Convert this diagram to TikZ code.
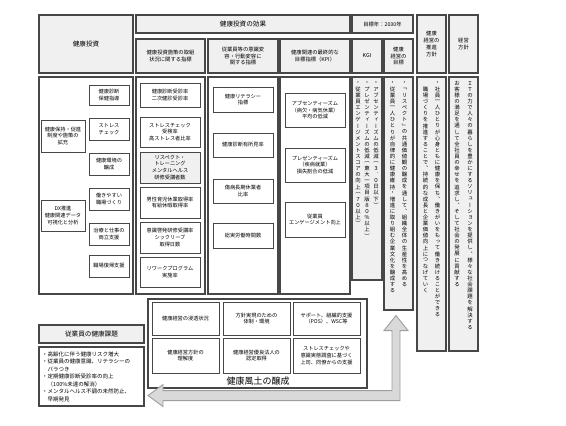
\documentclass[tikz,border=0pt]{standalone}
\usepackage{fontspec}
\setmainfont{Noto Sans CJK JP}
\newfontfamily\tatefont[RawFeature=+vert]{Noto Sans CJK JP}
\usepackage{graphicx}
\usetikzlibrary{calc}

\newlength\tatew
\newlength\tateh
\setlength\tatew{9pt}
\setlength\tateh{6.1pt}
\makeatletter
\def\tate@end{}
\newcommand\tatecol[1]{\vtop{\offinterlineskip\tate@loop#1\tate@end}}
\def\tate@loop#1{\ifx\tate@end#1\else\hbox to\tatew{\hss\vbox to\tateh{\vss\hbox{#1}\vss}\hss}\expandafter\tate@loop\fi}
\makeatother

\begin{document}
\begin{tikzpicture}[x=1pt, y=-1pt,
	HeadBox/.style={rectangle, draw=black!72, fill=black!6, line width=1.1pt, inner sep=1pt, align=center, font=\fontsize{5.3}{6.8}\selectfont},
	BigHead/.style={HeadBox, font=\fontsize{6.6}{8}\selectfont},
	BodyBox/.style={rectangle, draw=black!72, fill=white, line width=1.1pt},
	ItemBox/.style={rectangle, draw=black!72, fill=white, line width=0.9pt, inner sep=0.5pt, align=center, font=\fontsize{5.2}{6.8}\selectfont},
	TateText/.style={inner sep=0pt, anchor=north, font=\tatefont\fontsize{5.4}{6}\selectfont},
	BigArrow/.style={draw=black!38, fill=black!15, line width=0.9pt, line join=miter}]

	\useasboundingbox (0,0) rectangle (566,426);

	% top headers
	\node[BigHead, minimum width=94, minimum height=58] (InvHead) at (86,44) {健康投資};
	\node[BigHead, minimum width=214, minimum height=18] (EffHead) at (243,24) {健康投資の効果};
	\node[HeadBox, minimum width=61, minimum height=18] (YearHead) at (382.5,24) {目標年：2030年};
	\node[HeadBox, minimum width=29, minimum height=58] (PromHead) at (431.5,44) {健康\\経営の\\推進\\方針};
	\node[HeadBox, minimum width=29, minimum height=58] (PolHead) at (463.5,44) {経営\\方針};
	\node[HeadBox, minimum width=69, minimum height=34] (SubOneHead) at (170.5,56) {健康投資施策の取組\\状況に関する指標};
	\node[HeadBox, minimum width=70, minimum height=34] (SubTwoHead) at (243,56) {従業員等の意識変\\容・行動変容に\\関する指標};
	\node[HeadBox, minimum width=70, minimum height=34] (KpiHead) at (315,56) {健康関連の最終的な\\目標指標（KPI）};
	\node[HeadBox, minimum width=30, minimum height=34] (KgiHead) at (367,56) {KGI};
	\node[HeadBox, minimum width=29, minimum height=34] (GoalHead) at (398.5,56) {健康\\経営の\\目標};

	% column bodies
	\node[BodyBox, minimum width=94, minimum height=217] (InvBody) at (86,185.5) {};
	\node[BodyBox, minimum width=69, minimum height=217] (SubOneBody) at (170.5,185.5) {};
	\node[BodyBox, minimum width=70, minimum height=217] (SubTwoBody) at (243,185.5) {};
	\node[BodyBox, minimum width=70, minimum height=217] (KpiBody) at (315,185.5) {};
	\node[BodyBox, fill=black!6, minimum width=30, minimum height=203] (KgiBody) at (367,178.5) {};
	\node[BodyBox, fill=black!6, minimum width=29, minimum height=233] (GoalBody) at (398.5,193.5) {};
	\node[BodyBox, fill=black!6, minimum width=29, minimum height=274] (PromBody) at (431.5,214) {};
	\node[BodyBox, fill=black!6, minimum width=29, minimum height=274] (PolBody) at (463.5,214) {};

	% investment items
	\node[ItemBox, minimum width=40, minimum height=20] (InvCheckup) at (109,95) {健康診断\\保健指導};
	\node[ItemBox, minimum width=40, minimum height=22] (InvStress) at (109,129) {ストレス\\チェック};
	\node[ItemBox, minimum width=44, minimum height=32] (InvSystem) at (63,136) {健康保持・促進\\制度や施策の\\拡充};
	\node[ItemBox, minimum width=40, minimum height=22] (InvEnv) at (109,164) {健康環境の\\醸成};
	\node[ItemBox, minimum width=40, minimum height=22] (InvWork) at (109,199) {働きやすい\\職場づくり};
	\node[ItemBox, minimum width=44, minimum height=31] (InvDx) at (63,215.5) {DX推進\\健康関連データ\\可視化と分析};
	\node[ItemBox, minimum width=40, minimum height=22] (InvCure) at (109,234) {治療と仕事の\\両立支援};
	\node[ItemBox, minimum width=40, minimum height=22] (InvReturn) at (109,266) {職場復帰支援};

	% measure items
	\node[ItemBox, minimum width=60, minimum height=24] (MsCheckup) at (170,95) {健康診断受診率\\二次健診受診率};
	\node[ItemBox, minimum width=60, minimum height=30] (MsStress) at (170,132) {ストレスチェック\\受検率\\高ストレス者比率};
	\node[ItemBox, fill=black!6, minimum width=60, minimum height=31] (MsRespect) at (170,167.5) {リスペクト・\\トレーニング\\メンタルヘルス\\研修受講者数};
	\node[ItemBox, minimum width=60, minimum height=31] (MsLeave) at (170,202.5) {男性育児休業取得率\\有給休暇取得率};
	\node[ItemBox, minimum width=60, minimum height=31] (MsSick) at (170,237.5) {意識啓発研修受講率\\シックリーブ\\取得日数};
	\node[ItemBox, minimum width=60, minimum height=30] (MsRework) at (170,272) {リワークプログラム\\実施率};

	\node[ItemBox, minimum width=60, minimum height=25] (AwLiteracy) at (243,99.5) {健康リテラシー\\指標};
	\node[ItemBox, minimum width=60, minimum height=24] (AwFinding) at (243,145) {健康診断有所見率};
	\node[ItemBox, minimum width=60, minimum height=24] (AwAbsence) at (243,191) {傷病長期休業者\\比率};
	\node[ItemBox, minimum width=60, minimum height=25] (AwHours) at (243,235.5) {総実労働時間数};

	\node[ItemBox, minimum width=60, minimum height=34] (KpiAbs) at (315,110) {アブセンティーズム\\（病欠・病気休業）\\平均の低減};
	\node[ItemBox, minimum width=60, minimum height=34] (KpiPres) at (315,165) {プレゼンティーズム\\（疾病就業）\\損失割合の低減};
	\node[ItemBox, minimum width=60, minimum height=35] (KpiEng) at (315,219.5) {従業員\\エンゲージメント向上};

	% vertical texts
	\node[TateText] (KgiText) at (367,80) {\tatew=9pt\hbox{\tatecol{・従業員エンゲージメントスコアの向上（７０以上）}\tatecol{・プレゼンティーズムの低減（東大一項目版８０％以上）}\tatecol{・アブセンティーズムの低減（３．０日以下）}}};
	\node[TateText] (GoalText) at (398.5,80) {\tatew=12pt\hbox{\tatecol{・従業員一人ひとりが自律的に健康維持・増進に取り組む企業文化を醸成する}\tatecol{・「リスペクト」の共通価値観の醸成を通して、組織全体の生産性を高める}}};
	\node[TateText] (PromText) at (431.5,80) {\tatew=12pt\hbox{\tatecol{　職場づくりを推進することで、持続的な成長と企業価値向上につなげていく}\tatecol{・社員一人ひとりが心身ともに健康を保ち、働きがいをもって働き続けることができる}}};
	\node[TateText] (PolText) at (463.5,80) {\tatew=13pt\hbox{\tatecol{お客様の満足を通して全社員の幸せを追求し、そして社会の発展に貢献する}\tatecol{ＩＴの力で人々の暮らしを豊かにするソリューションを提供し、様々な社会課題を解決する}}};

	% health issues
	\node[BigHead, minimum width=105, minimum height=18] (IssueHead) at (91.5,334) {従業員の健康課題};
	\node[BodyBox, minimum width=105, minimum height=59] (IssueBody) at (91.5,376.5) {};
	\node[inner sep=0pt, anchor=west, align=left, font=\fontsize{5.5}{7.5}\selectfont] (IssueText) at (42,376.5) {・高齢化に伴う健康リスク増大\\・従業員の健康意識、リテラシーの\\　バラつき\\・定期健康診断受診率の向上\\　（100\%未達の解消）\\・メンタルヘルス不調の未然防止、\\　早期発見};

	% culture
	\node[BodyBox, minimum width=219, minimum height=89] (CultBody) at (257.5,343.5) {};
	\node[ItemBox, minimum width=67, minimum height=33] (CultSpread) at (185.5,318.5) {健康経営の浸透状況};
	\node[ItemBox, minimum width=67, minimum height=33] (CultSystem) at (256.5,318.5) {方針実現のための\\体制・環境};
	\node[ItemBox, minimum width=67, minimum height=33] (CultSupport) at (326.5,318.5) {サポート、組織的支援\\（POS）、WSC等};
	\node[ItemBox, minimum width=67, minimum height=35] (CultUnder) at (185.5,355.5) {健康経営方針の\\理解度};
	\node[ItemBox, minimum width=67, minimum height=35] (CultCert) at (256.5,355.5) {健康経営優良法人の\\認定取得};
	\node[ItemBox, minimum width=67, minimum height=35] (CultBoss) at (326.5,355.5) {ストレスチェックや\\意識実態調査に基づく\\上司、同僚からの支援};
	\node[inner sep=0pt, font=\fontsize{9}{10}\selectfont] (CultLabel) at (258,381) {健康風土の醸成};

	% feedback arrow
	\coordinate (UpTip) at ($(GoalBody.south)+(-2.5,5)$);
	\draw[BigArrow] (UpTip) -- ++(12,15) -- ++(-8,0) -- ++(0,70) -- ++(-237,0) -- ++(0,6)
		-- ++(-15,-11) -- ++(15,-11) -- ++(0,6) -- ++(229,0) -- ++(0,-60) -- ++(-8,0) -- cycle;
\end{tikzpicture}
\end{document}
